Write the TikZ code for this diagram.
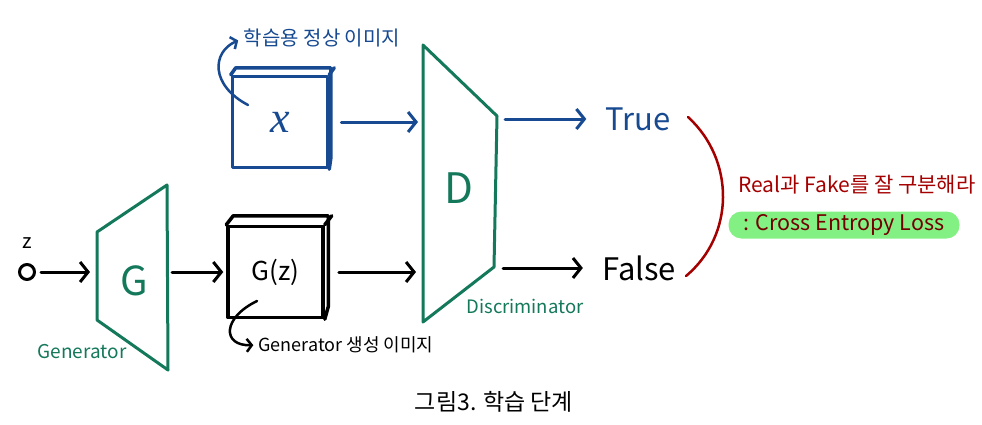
\documentclass[tikz,border=0pt]{standalone}
\usepackage{fontspec}
\setmainfont{Noto Sans CJK KR}
\newfontfamily\serifx{Liberation Serif}
\usetikzlibrary{arrows.meta}
\definecolor{bleu}{RGB}{23,74,145}
\definecolor{vert}{RGB}{20,120,90}
\definecolor{rouge}{RGB}{165,0,0}
\definecolor{bordeaux}{RGB}{115,0,0}
\definecolor{surligne}{RGB}{130,240,130}

\begin{document}
\begin{tikzpicture}[line cap=round,line join=round,>={Straight Barb[length=8pt,width=20pt]},x=1pt,y=-1pt,
		boite/.style={draw,line width=3.5pt,minimum width=95pt,minimum height=91pt,inner sep=0pt},
		fleche/.style={->,line width=3pt},
		petite/.style={-{Straight Barb[length=5pt,width=13pt]},line width=2.5pt},
		texte/.style={inner sep=0pt}]
		\useasboundingbox (0,0) rectangle (982,424);
		%Generateur
		\coordinate (G1) at (97,232);
		\coordinate (G2) at (167,185);
		\coordinate (G3) at (168,370);
		\coordinate (G4) at (97,320);
		\draw[vert,line width=3pt] (G1)--(G2)--(G3)--(G4)--cycle;
		\node[texte,vert,font=\fontsize{40}{40}\selectfont] (Glettre) at (134,281) {G};
		\node[texte,vert,font=\fontsize{19}{19}\selectfont] (Gnom) at (82,352) {Generator};
		%Bruit z
		\node[circle,draw,line width=3pt,minimum size=15pt,inner sep=0pt] (z) at (27,272) {};
		\node[texte,font=\fontsize{20}{20}\selectfont] (zlettre) at (27,243) {z};
		\draw[fleche,shorten <=5pt,shorten >=7pt] (z) -- (z -| G1);
		%Image G(z)
		\node[boite] (gz) at (275.5,272) {\fontsize{26}{26}\selectfont G(z)};
		\draw[line width=3.5pt] (gz.north west) -- ++(7,-9) -- ++(95,0) -- ++(0,91) -- (gz.south east);
		\draw[line width=3.5pt] (gz.north east) -- ++(7,-9);
		\draw[fleche,shorten <=5pt,shorten >=3pt] (z -| G2) -- (gz.west);
		\coordinate (gzpointe) at (257,301);
		\node[texte,font=\fontsize{18}{18}\selectfont] (gznom) at (346,345) {Generator 생성 이미지};
		\draw[petite,shorten >=5pt] (gzpointe) .. controls (222,318) and (222,346) .. (gznom.west);
		%Image x
		\node[boite,bleu] (x) at (280,122) {\serifx\itshape\fontsize{44}{44}\selectfont x};
		\draw[bleu,line width=3.5pt] (x.north west) -- ++(5,-7) -- ++(95,0) -- ++(0,91) -- (x.south east);
		\draw[bleu,line width=3.5pt] (x.north east) -- ++(5,-7);
		\coordinate (xpointe) at (248,105);
		\node[texte,bleu,font=\fontsize{20}{20}\selectfont] (xnom) at (322,38) {학습용 정상 이미지};
		\draw[petite,bleu,shorten >=6pt] (xpointe) .. controls (210,85) and (212,52) .. (xnom.west);
		%Discriminateur
		\coordinate (D1) at (423,45);
		\coordinate (D2) at (497,116);
		\coordinate (D3) at (494,267);
		\coordinate (D4) at (423,322);
		\draw[vert,line width=3pt] (D1)--(D2)--(D3)--(D4)--cycle;
		\node[texte,vert,font=\fontsize{42}{42}\selectfont] (Dlettre) at (459,188) {D};
		\node[texte,vert,font=\fontsize{18.5}{18.5}\selectfont] (Dnom) at (525,306) {Discriminator};
		\draw[fleche,bleu,shorten <=12pt,shorten >=5pt] (x.east) -- (x.east -| D1);
		\draw[fleche,shorten <=14pt,shorten >=7pt] (gz.east) -- (gz.east -| D1);
		%Sorties
		\node[texte,bleu,font=\fontsize{31}{31}\selectfont] (vrai) at (638,119) {True};
		\node[texte,font=\fontsize{31}{31}\selectfont] (faux) at (639,268) {False};
		\draw[fleche,bleu,shorten <=8pt,shorten >=19pt] (vrai -| D2) -- (vrai.west);
		\draw[fleche,shorten <=9pt,shorten >=19pt] (faux -| D3) -- (faux.west);
		%Perte
		\coordinate (arc1) at (688,117);
		\coordinate (arc2) at (686,276);
		\draw[rouge,line width=2.5pt] (arc1) .. controls (735,160) and (735,235) .. (arc2);
		\node[texte,rouge,font=\fontsize{21}{21}\selectfont] (consigne) at (857,185) {Real과 Fake를 잘 구분해라};
		\node[fill=surligne,rounded corners=13pt,minimum width=231pt,minimum height=27pt,inner sep=0pt,text=bordeaux,font=\fontsize{21.5}{21.5}\selectfont] (perte) at (844,225) {: Cross Entropy Loss};
		%Legende
		\node[texte,font=\fontsize{23}{23}\selectfont] (legende) at (494,402) {그림3. 학습 단계};
\end{tikzpicture}
\end{document}
